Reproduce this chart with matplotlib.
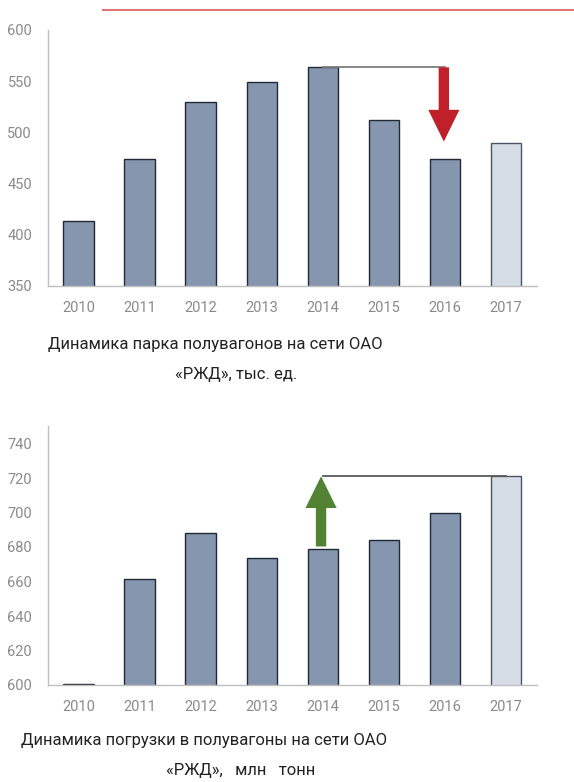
import matplotlib
matplotlib.use("Agg")
import matplotlib.pyplot as plt
from matplotlib.lines import Line2D

plt.rcParams['font.family'] = ['Roboto', 'DejaVu Sans']

years = ['2010', '2011', '2012', '2013', '2014', '2015', '2016', '2017']
fleet = [413, 474, 530, 549, 563.5, 512, 474, 490]
loading = [600.5, 661.5, 688, 673.5, 679, 684, 700, 721]

DARK = '#8696ae'
LIGHT = '#d6dde6'
EDGE = '#1f2a36'
GRID = '#bfbfbf'
TICK = '#8a8a8a'

fig = plt.figure(figsize=(5.74, 7.82), dpi=100)

# decorative line at the top
fig.add_artist(Line2D([103 / 574, 1.0], [1 - 10 / 782, 1 - 10 / 782],
                      color='#e07575', lw=1.5))


def style_axes(ax, ylim, yticks):
    x = range(len(years))
    ax.set_xlim(-0.5, 7.5)
    ax.set_ylim(*ylim)
    ax.set_yticks(yticks)
    ax.set_xticks(list(x))
    ax.set_xticklabels(years)
    for s in ['top', 'right']:
        ax.spines[s].set_visible(False)
    for s in ['left', 'bottom']:
        ax.spines[s].set_color(GRID)
        ax.spines[s].set_linewidth(1)
    ax.tick_params(length=0, colors=TICK, labelsize=10.5)
    ax.tick_params(axis='x', pad=11)
    ax.tick_params(axis='y', pad=11.5)


def draw_bars(ax, values):
    x = list(range(len(values)))
    colors = [DARK] * (len(values) - 1) + [LIGHT]
    edges = [EDGE] * (len(values) - 1) + ['#4a5563']
    ax.bar(x, values, width=0.5, color=colors, edgecolor=edges, linewidth=1, zorder=2)


# ---- top chart: fleet ----
ax1 = fig.add_axes([48 / 574, 0.6343, (536.7 - 48) / 574, 0.3274])
draw_bars(ax1, fleet)
style_axes(ax1, (350, 600), [350, 400, 450, 500, 550, 600])
ax1.plot([4, 6], [fleet[4], fleet[4]], color='#7f7f7f', lw=1.3, zorder=3)
ax1.arrow(5.98, fleet[4], 0, 491 - fleet[4], width=0.17, head_width=0.51,
          head_length=31, length_includes_head=True, color='#c0202a',
          lw=0, zorder=4)

fig.text(215 / 574, 1 - 344 / 782, 'Динамика парка полувагонов на сети ОАО',
         ha='center', va='center', fontsize=12, color='#222222')
fig.text(236 / 574, 1 - 375 / 782, '«РЖД», тыс. ед.',
         ha='center', va='center', fontsize=12, color='#222222')

# ---- bottom chart: loading ----
ax2 = fig.add_axes([48 / 574, 97 / 782, (536.7 - 48) / 574, 258.75 / 782])
draw_bars(ax2, loading)
style_axes(ax2, (600, 750), [600, 620, 640, 660, 680, 700, 720, 740])
ax2.plot([4, 7], [loading[7], loading[7]], color='#5a5a5a', lw=1.3, zorder=3)
ax2.arrow(3.97, 680.3, 0, loading[7] - 680.3, width=0.17, head_width=0.51,
          head_length=18.4, length_includes_head=True, color='#548235',
          lw=0, zorder=4)

fig.text(204 / 574, 1 - 741 / 782, 'Динамика погрузки в полувагоны на сети ОАО',
         ha='center', va='center', fontsize=12, color='#222222')
fig.text(241 / 574, 1 - 771 / 782, '«РЖД»,   млн   тонн',
         ha='center', va='center', fontsize=12, color='#222222')

fig.savefig('out.png', dpi=100)
